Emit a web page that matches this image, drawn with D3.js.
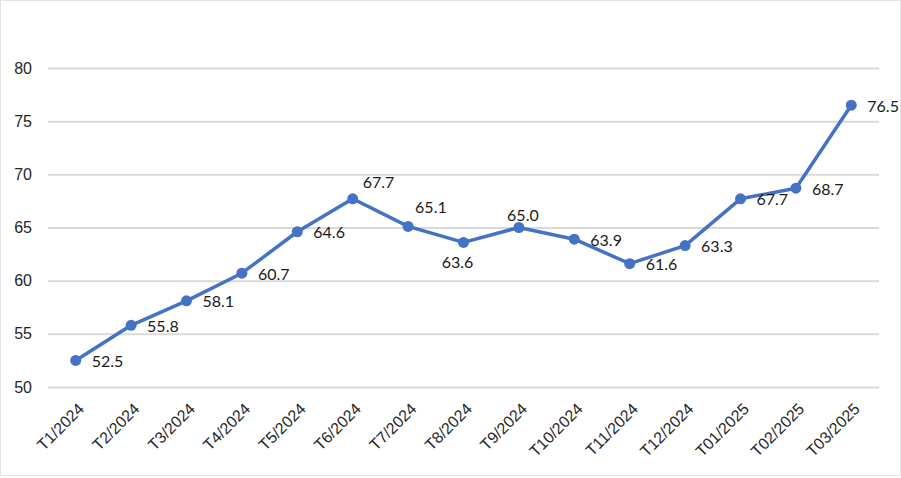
<!DOCTYPE html>
<html>
<head>
<meta charset="utf-8">
<script src="https://cdn.jsdelivr.net/npm/d3@7"></script>
<style>
  body { margin: 0; background: #fff; }
  svg { display: block; font-family: Lato, "Open Sans", sans-serif; }
  .grid line { stroke: #d9d9d9; stroke-width: 2; }
  .grid .domain { display: none; }
  .tick text { fill: #262626; font-size: 16px; }
</style>
</head>
<body>
<svg></svg>
<script>
let months = ["T1/2024", "T2/2024", "T3/2024", "T4/2024", "T5/2024", "T6/2024",
  "T7/2024", "T8/2024", "T9/2024", "T10/2024", "T11/2024", "T12/2024",
  "T01/2025", "T02/2025", "T03/2025"];
let values = [52.5, 55.8, 58.1, 60.7, 64.6, 67.7, 65.1, 63.6, 65.0, 63.9, 61.6, 63.3, 67.7, 68.7, 76.5];
let yTicks = [50, 55, 60, 65, 70, 75, 80];

let width = 901;
let height = 478;
let plotLeft = 48;
let plotRight = 879;
let plotTop = 68;
let plotBottom = 387;

let svg = d3.select("svg").attr("width", width).attr("height", height);

// light frame around the chart area
svg.append("rect")
  .attr("x", 0.5).attr("y", 0.5)
  .attr("width", width - 1).attr("height", height - 3)
  .attr("fill", "none")
  .attr("stroke", "#e3e3e3");

let xScale = d3.scalePoint().domain(months).range([plotLeft, plotRight]).padding(0.5);
let yScale = d3.scaleLinear().domain([50, 80]).range([plotBottom, plotTop]);

let yAxis = d3.axisLeft(yScale)
  .tickValues(yTicks)
  .tickSize(-(plotRight - plotLeft))
  .tickPadding(16);

svg.append("g")
  .attr("class", "grid")
  .attr("transform", "translate(" + plotLeft + ", 0)")
  .call(yAxis);

let xAxis = d3.axisBottom(xScale).tickSize(0);

let xg = svg.append("g")
  .attr("transform", "translate(0, " + plotBottom + ")")
  .call(xAxis);
xg.select(".domain").remove();
xg.selectAll(".tick text")
  .attr("text-anchor", "end")
  .attr("dy", "0.35em")
  .attr("y", 0)
  .attr("transform", "translate(5, 19) rotate(-45)");

let line = d3.line()
  .x((d, i) => xScale(months[i]))
  .y((d) => yScale(d));

svg.append("path")
  .datum(values)
  .attr("fill", "none")
  .attr("stroke", "#4472c4")
  .attr("stroke-width", 3.5)
  .attr("stroke-linejoin", "round")
  .attr("d", line);

svg.selectAll("circle")
  .data(values)
  .enter()
  .append("circle")
  .attr("cx", (d, i) => xScale(months[i]))
  .attr("cy", (d) => yScale(d))
  .attr("r", 5.5)
  .attr("fill", "#4472c4");

// label placement: most sit right of the marker, a few are nudged like Excel did
let labelOffset = (i) => {
  if (i === 5) return { dx: 10, dy: -16, anchor: "start" };
  if (i === 6) return { dx: 7, dy: -19, anchor: "start" };
  if (i === 7) return { dx: -6, dy: 20, anchor: "middle" };
  if (i === 8) return { dx: 4, dy: -12, anchor: "middle" };
  return { dx: 16, dy: 1, anchor: "start" };
};

svg.selectAll(".label")
  .data(values)
  .enter()
  .append("text")
  .attr("class", "label")
  .attr("x", (d, i) => xScale(months[i]) + labelOffset(i).dx)
  .attr("y", (d, i) => yScale(d) + labelOffset(i).dy)
  .attr("dy", "0.35em")
  .attr("text-anchor", (d, i) => labelOffset(i).anchor)
  .attr("fill", "#1a1a1a")
  .attr("font-size", 16)
  .text((d) => d.toFixed(1));
</script>
</body>
</html>
